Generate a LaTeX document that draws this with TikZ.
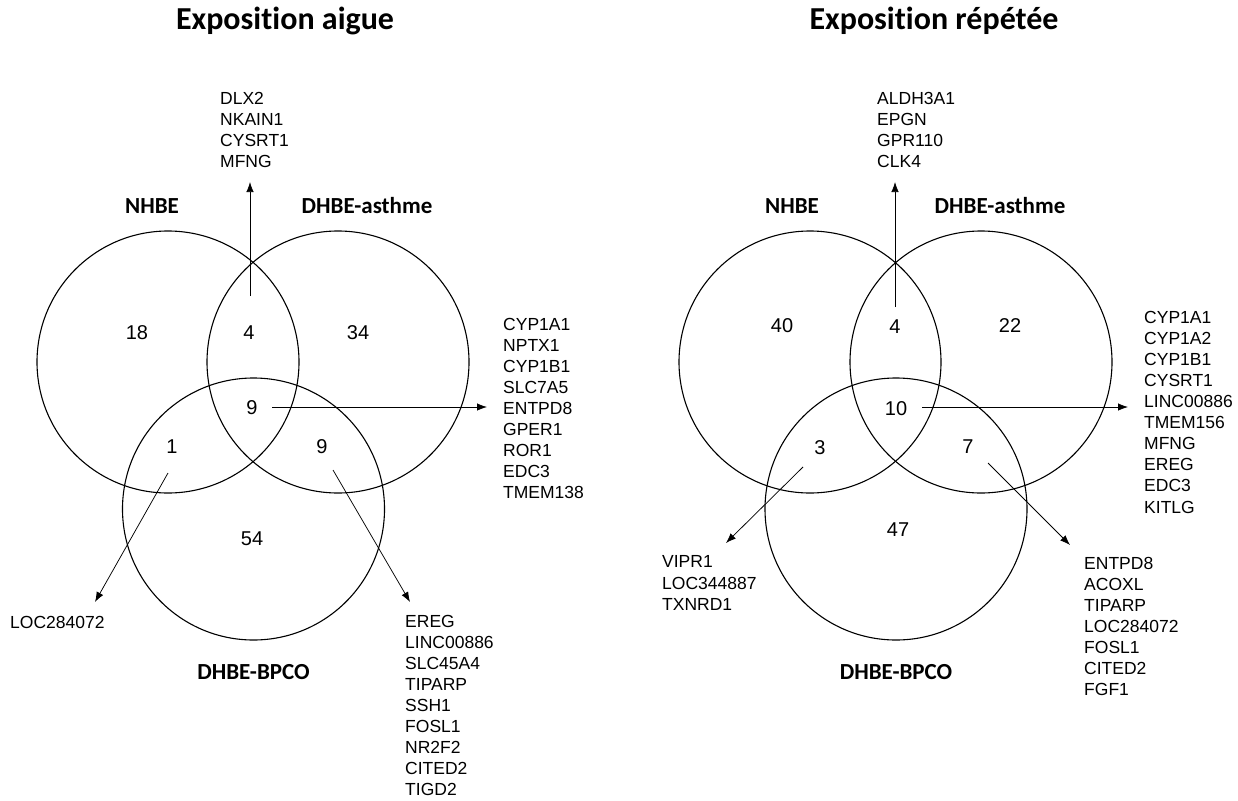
\documentclass[tikz,border=0pt]{standalone}
\usepackage{fontspec}
\setmainfont{Liberation Sans}
\newfontfamily\labfont{Carlito}[Ligatures={NoCommon,NoDiscretionary}]
\usetikzlibrary{arrows.meta}
\begin{document}
\begin{tikzpicture}[x=1pt,y=-1pt,
  venn/.style={circle,draw,line width=1.1pt,minimum size=262pt,inner sep=0pt},
  num/.style={font=\fontsize{20}{24}\selectfont,inner sep=1pt},
  lab/.style={font=\labfont\bfseries\fontsize{23}{28}\selectfont,inner sep=0pt,anchor=base},
  ttl/.style={font=\labfont\bfseries\fontsize{32}{38}\selectfont,inner sep=0pt,anchor=base},
  genes/.style={font=\fontsize{17.5}{21.1}\selectfont,align=left,anchor=north west,inner sep=0pt},
  arr/.style={line width=0.75pt,-{Latex[length=10pt,width=7.5pt]}}]
\useasboundingbox (0,0) rectangle (1238,800);
% ---------------- left: Exposition aigue ----------------
\node[ttl] (t1) at (285,29.5) {Exposition aigue};
\node[venn] (a1) at (168,362) {};
\node[venn] (a2) at (338,362) {};
\node[venn] (a3) at (253.5,509) {};
\node[lab] (la1) at (152,213) {NHBE};
\node[lab] (la2) at (367,213) {DHBE-asthme};
\node[lab] (la3) at (253.5,679) {DHBE-BPCO};
\node[num] (n18) at (137,333) {18};
\node[num] (n4a) at (249,333) {4};
\node[num] (n34) at (358,333) {34};
\node[num] (n9c) at (252,408) {9};
\node[num] (n1) at (172,447) {1};
\node[num] (n9r) at (322,447) {9};
\node[num] (n54) at (252,539) {54};
\node[genes] (g1) at (220,91.7) {DLX2\\NKAIN1\\CYSRT1\\MFNG};
\node[genes] (g2) at (503,317.7) {CYP1A1\\NPTX1\\CYP1B1\\SLC7A5\\ENTPD8\\GPER1\\ROR1\\EDC3\\TMEM138};
\node[genes] (g3) at (10,615.7) {LOC284072};
\node[genes] (g4) at (405,614.7) {EREG\\LINC00886\\SLC45A4\\TIPARP\\SSH1\\FOSL1\\NR2F2\\CITED2\\TIGD2};
\coordinate (s1) at (250,296);
\coordinate (e1) at (250,182);
\coordinate (s2) at (272,407);
\coordinate (e2) at (487,407);
\coordinate (s3) at (168,473);
\coordinate (e3) at (95,602);
\coordinate (s4) at (333,470);
\coordinate (e4) at (410,602);
\draw[arr] (s1) -- (e1);
\draw[arr] (s2) -- (e2);
\draw[arr] (s3) -- (e3);
\draw[arr] (s4) -- (e4);
% ---------------- right: Exposition repetee ----------------
\node[ttl] (t2) at (934,30) {Exposition répétée};
\node[venn] (b1) at (810,362) {};
\node[venn] (b2) at (981,362) {};
\node[venn] (b3) at (896,509) {};
\node[lab] (lb1) at (792,213) {NHBE};
\node[lab] (lb2) at (1000,213) {DHBE-asthme};
\node[lab] (lb3) at (896,679) {DHBE-BPCO};
\node[num] (m40) at (782,326) {40};
\node[num] (m4) at (895,327) {4};
\node[num] (m22) at (1010,326) {22};
\node[num] (m10) at (896,409) {10};
\node[num] (m3) at (820,448) {3};
\node[num] (m7) at (968,447) {7};
\node[num] (m47) at (898,530) {47};
\node[genes] (h1) at (877,91.7) {ALDH3A1\\EPGN\\GPR110\\CLK4};
\node[genes] (h2) at (1144,310.7) {CYP1A1\\CYP1A2\\CYP1B1\\CYSRT1\\LINC00886\\TMEM156\\MFNG\\EREG\\EDC3\\KITLG};
\node[genes] (h3) at (662,555.7) {VIPR1\\LOC344887\\TXNRD1};
\node[genes] (h4) at (1084,556.7) {ENTPD8\\ACOXL\\TIPARP\\LOC284072\\FOSL1\\CITED2\\FGF1};
\coordinate (r1) at (895,307);
\coordinate (f1) at (895,182);
\coordinate (r2) at (922,407);
\coordinate (f2) at (1128,407);
\coordinate (r3) at (803,467);
\coordinate (f3) at (726,543);
\coordinate (r4) at (988,463);
\coordinate (f4) at (1070,545);
\draw[arr] (r1) -- (f1);
\draw[arr] (r2) -- (f2);
\draw[arr] (r3) -- (f3);
\draw[arr] (r4) -- (f4);
\end{tikzpicture}
\end{document}
